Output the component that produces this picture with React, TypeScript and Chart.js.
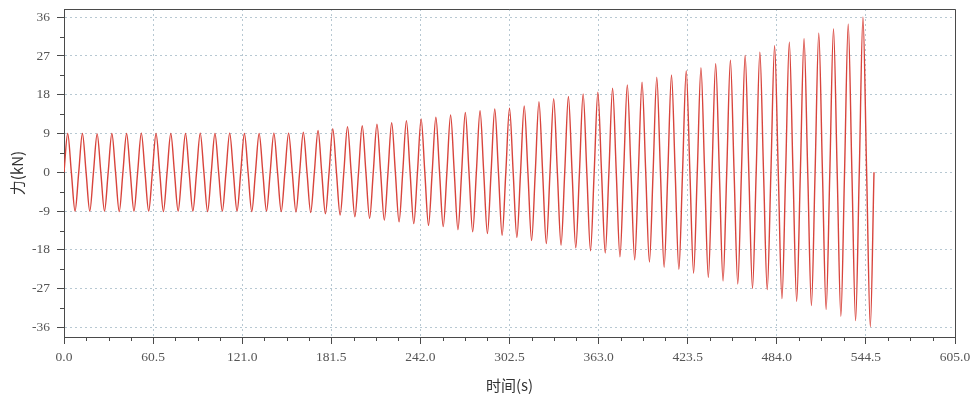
import React, { useEffect, useRef } from "react";
import { Chart, registerables } from "chart.js";

Chart.register(...registerables);

// ---- data ----
const cyclePeriod = 10; // s, one loading cycle
const peakForce = [
  9.0, 9.0, 8.9, 9.0, 9.0, 9.1, 9.0, 9.0, 9.0, 9.1, 9.0, 9.1, 9.0, 9.0, 9.1, 9.1, 9.3,
  9.7, 10.1, 10.6, 10.8, 11.2, 11.5, 12.0, 12.4, 12.8, 13.3,
  13.9, 14.3, 14.7, 14.9, 15.4, 16.4, 17.1, 17.6, 18.2, 18.6,
  19.5, 20.3, 20.9, 22.1, 22.6, 23.6, 24.3, 25.2, 26.0, 27.1,
  27.9, 29.4, 30.2, 31.0, 32.3, 33.3, 34.4, 36.0,
];
const troughForce = [
  -9.0, -9.0, -9.0, -9.1, -9.0, -9.0, -9.1, -9.0, -9.0, -9.1, -9.0, -9.0, -9.1, -9.0, -9.1, -9.2, -9.3,
  -9.6, -9.9, -10.3, -10.7, -11.1, -11.5, -11.9, -12.3, -12.6, -13.3,
  -13.8, -14.2, -14.6, -15.1, -15.8, -16.5, -16.9, -17.5, -18.2, -18.7,
  -19.6, -20.3, -20.8, -22.0, -22.5, -23.4, -24.4, -25.2, -25.9, -26.9,
  -27.2, -29.3, -29.9, -30.9, -31.8, -33.4, -34.4, -35.8,
];
const endTime = 550;
const endForce = 0;

const xTickValues = [0, 60.5, 121, 181.5, 242, 302.5, 363, 423.5, 484, 544.5, 605];
const yTickValues = [-36, -27, -18, -9, 0, 9, 18, 27, 36];
const xMinorStep = 15.125;
const yMinorStep = 4.5;
const xTitle = "时间(s)";
const yTitle = "力(kN)";

// build the point table for the line (zero crossing, peak, zero crossing, trough per cycle)
function buildPoints() {
  const pts: { x: number; y: number }[] = [];
  for (let k = 0; k < peakForce.length; k++) {
    const t0 = k * cyclePeriod;
    pts.push({ x: t0, y: 0 });
    pts.push({ x: t0 + cyclePeriod / 4, y: peakForce[k] });
    pts.push({ x: t0 + cyclePeriod / 2, y: 0 });
    pts.push({ x: t0 + (3 * cyclePeriod) / 4, y: troughForce[k] });
  }
  pts.push({ x: endTime, y: endForce });
  return pts;
}

const AXIS_COLOR = "#4a4a4a";

const frameAndMinor = {
  id: "frameAndMinor",
  afterDraw(chart: any) {
    const { ctx, chartArea } = chart;
    const xs = chart.scales.x;
    const ys = chart.scales.y;
    ctx.save();
    ctx.strokeStyle = AXIS_COLOR;
    ctx.lineWidth = 1;
    ctx.setLineDash([]);
    ctx.beginPath();
    // minor x ticks
    for (let v = xMinorStep; v < xs.max; v += xMinorStep) {
      if (xTickValues.some((t) => Math.abs(t - v) < 1e-6)) continue;
      const px = Math.round(xs.getPixelForValue(v)) + 0.5;
      ctx.moveTo(px, chartArea.bottom);
      ctx.lineTo(px, chartArea.bottom + 4);
    }
    // minor y ticks
    for (let v = -36 + yMinorStep; v < 36; v += yMinorStep) {
      if (yTickValues.some((t) => Math.abs(t - v) < 1e-6)) continue;
      const py = Math.round(ys.getPixelForValue(v)) + 0.5;
      ctx.moveTo(chartArea.left, py);
      ctx.lineTo(chartArea.left - 4, py);
    }
    ctx.stroke();
    // top and right frame
    ctx.beginPath();
    const top = Math.round(chartArea.top) + 0.5;
    const right = Math.round(chartArea.right) + 0.5;
    ctx.moveTo(chartArea.left, top);
    ctx.lineTo(right, top);
    ctx.lineTo(right, chartArea.bottom);
    ctx.stroke();
    ctx.restore();
  },
};

export default function App() {
  const ref = useRef<HTMLCanvasElement | null>(null);
  useEffect(() => {
    if (!ref.current) return;
    const tickFont = { family: "'Liberation Serif', 'Times New Roman', serif", size: 13.5 };
    const chart = new Chart(ref.current, {
      type: "line",
      data: {
        datasets: [
          {
            data: buildPoints(),
            borderColor: "#d8443c",
            borderWidth: 1.4,
            pointRadius: 0,
            fill: false,
            cubicInterpolationMode: "monotone",
          },
        ],
      },
      options: {
        animation: false,
        responsive: false,
        maintainAspectRatio: false,
        layout: { padding: { top: 9, right: 17, left: 0, bottom: 0 } },
        plugins: { legend: { display: false }, tooltip: { enabled: false } },
        scales: {
          x: {
            type: "linear",
            min: 0,
            max: 605,
            afterBuildTicks: (s: any) => {
              s.ticks = xTickValues.map((v) => ({ value: v }));
            },
            afterFit: (s: any) => {
              s.height = 66;
              s.paddingLeft = 0;
              s.paddingRight = 0;
            },
            ticks: {
              font: tickFont,
              color: "#555",
              padding: 5,
              maxRotation: 0,
              autoSkip: false,
              callback: (v: any) => Number(v).toFixed(1),
            },
            grid: {
              color: "#b7c8d2",
              lineWidth: 1,
              tickLength: 7,
              tickColor: AXIS_COLOR,
            },
            border: { color: AXIS_COLOR, width: 1, dash: [2, 3] },
            title: {
              display: true,
              text: xTitle,
              color: "#333",
              font: { family: "'Noto Sans CJK SC', 'Noto Sans', sans-serif", size: 15 },
              padding: { top: 0, bottom: 9 },
            },
          },
          y: {
            type: "linear",
            min: -38.2,
            max: 37.9,
            afterBuildTicks: (s: any) => {
              s.ticks = yTickValues.map((v) => ({ value: v }));
            },
            afterFit: (s: any) => {
              s.width = 64;
              s.paddingTop = 0;
              s.paddingBottom = 0;
            },
            ticks: {
              font: tickFont,
              color: "#555",
              padding: 7,
              autoSkip: false,
              callback: (v: any) => String(v),
            },
            grid: {
              color: "#b7c8d2",
              lineWidth: 1,
              tickLength: 7,
              tickColor: AXIS_COLOR,
            },
            border: { color: AXIS_COLOR, width: 1, dash: [2, 3] },
            title: {
              display: true,
              text: yTitle,
              color: "#333",
              font: { family: "'Noto Sans CJK SC', 'Noto Sans', sans-serif", size: 15 },
              padding: { top: 8, bottom: 0 },
            },
          },
        },
      },
      plugins: [frameAndMinor],
    });
    return () => chart.destroy();
  }, []);
  return (
    <div style={{ position: "absolute", left: 0, top: 0, width: 972, height: 403, background: "#fff" }}>
      <canvas ref={ref} width={972} height={403} style={{ display: "block" }} />
    </div>
  );
}
